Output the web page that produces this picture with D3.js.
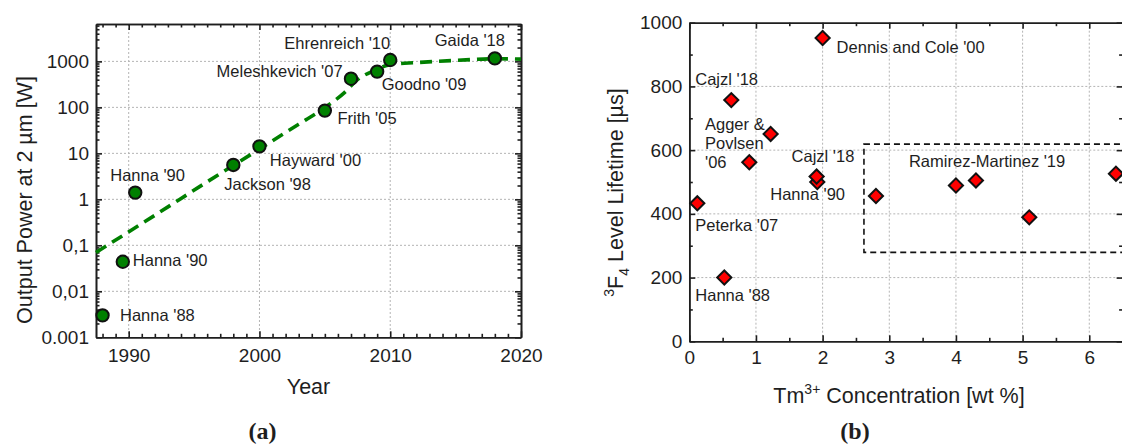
<!DOCTYPE html>
<html>
<head>
<meta charset="utf-8">
<script src="https://cdn.jsdelivr.net/npm/d3@7"></script>
<style>
  body { margin: 0; background: #fff; }
  svg { display: block; font-family: "Liberation Sans", Arial, sans-serif; }
  .grid line { stroke: #b4b4b4; stroke-width: 1; stroke-dasharray: 2,2; }
  .ax path, .ax line { stroke: #1e1e1e; stroke-width: 1.6; }
  .ax text { font-size: 19px; fill: #1e1e1e; }
  .lbl { font-size: 16.5px; fill: #1e1e1e; }
  .title { font-size: 21.5px; fill: #1e1e1e; }
  .panel { font-family: "Liberation Serif", "DejaVu Serif", serif; font-weight: bold; font-size: 24px; fill: #1e1e1e; }
</style>
</head>
<body>
<script>
// ---- panel (a): output power vs year ----
var years = [1988, 1989.55, 1990.5, 1998, 2000, 2005, 2007, 2009, 2010, 2018];
var powers = [0.003, 0.044, 1.4, 5.6, 14.2, 85, 420, 600, 1070, 1160];
var namesA = ["Hanna '88", "Hanna '90", "Hanna '90", "Jackson '98", "Hayward '00",
              "Frith '05", "Meleshkevich '07", "Goodno '09", "Ehrenreich '10", "Gaida '18"];
// trend curve
var trendYears = [1987.5, 1992, 1996, 2000, 2003, 2005, 2006.5, 2007.5, 2008.7, 2010, 2012, 2015, 2018, 2020];
var trendPower = [0.07, 0.45, 2.4, 12.4, 43, 99, 210, 400, 620, 850, 940, 1050, 1140, 1120];
var yearTicks = [1990, 2000, 2010, 2020];
var powerTicks = [0.001, 0.01, 0.1, 1, 10, 100, 1000];
var powerTickLabels = ["0.001", "0,01", "0,1", "1", "10", "100", "1000"];

// ---- panel (b): 3F4 lifetime vs Tm concentration ----
var conc = [2.0, 0.63, 1.22, 0.9, 1.92, 1.91, 0.12, 0.525, 2.8, 4.0, 4.3, 5.1, 6.4];
var lifetime = [952, 757, 651, 562, 500, 517, 433, 200, 456, 489, 505, 389, 526];
var namesB = ["Dennis and Cole '00", "Cajzl '18", "Agger &|Povlsen|'06", "", "Hanna '90", "Cajzl '18",
              "Peterka '07", "Hanna '88", "", "", "", "", ""];
var boxConc = [2.62, 6.7];
var boxLife = [279, 619];
var boxName = "Ramirez-Martinez '19";
var concTicks = [0, 1, 2, 3, 4, 5, 6];
var lifeTicks = [0, 200, 400, 600, 800, 1000];

// label offsets (px from the marker), kept apart from the values
var offA = [[17.5, 5.6, "start"], [10, 4.3, "start"], [-25, -11.6, "start"], [-9, 25, "start"],
            [10.4, 20, "start"], [12.7, 13.5, "start"], [-8.4, -2, "end"], [4.5, 18.5, "start"],
            [0, -11, "end"], [-25, -12, "middle"]];
var offB = [[14, 15], [-36, -15], [-65.6, -3.8], [0, 0], [-47, 18], [-25, -14.5],
            [-2, 28], [-29, 23.5], [0, 0], [0, 0], [0, 0], [0, 0], [0, 0]];

var svg = d3.select("body").append("svg").attr("width", 1122).attr("height", 448);

// ================= panel a =================
var xa = d3.scaleLinear().domain([1987.5, 2020]).range([96, 521]);
var ya = d3.scaleLog().domain([0.001, 6500]).range([337.3, 24]);
var ga = svg.append("g");

ga.append("g").attr("class", "grid").selectAll("line")
    .data(yearTicks.slice(0, 3)).enter().append("line")
    .attr("x1", d => xa(d)).attr("x2", d => xa(d)).attr("y1", 24).attr("y2", 337.3);
ga.append("g").attr("class", "grid").selectAll("line")
    .data(powerTicks.slice(1)).enter().append("line")
    .attr("y1", d => ya(d)).attr("y2", d => ya(d)).attr("x1", 96).attr("x2", 521);

var minorYears = d3.range(1988, 2020).filter(d => d % 10 !== 0);
var minorPow = [];
powerTicks.concat([1e4]).forEach(function (p) {
    for (var k = 2; k <= 9; k++) { if (p * k < 6500) minorPow.push(p * k); }
});

function frame(g, x, y, majX, minX, majY, minY, fmtX, fmtY, padX) {
    var bottom = y.range()[0], top = y.range()[1], left = x.range()[0], right = x.range()[1];
    g.append("g").attr("class", "ax").attr("transform", "translate(0," + bottom + ")")
        .call(d3.axisBottom(x).tickValues(majX).tickSize(-6).tickSizeOuter(0).tickPadding(padX).tickFormat(fmtX));
    g.append("g").attr("class", "ax").attr("transform", "translate(0," + bottom + ")")
        .call(d3.axisBottom(x).tickValues(minX).tickSize(-3.5).tickSizeOuter(0).tickFormat(""));
    g.append("g").attr("class", "ax").attr("transform", "translate(0," + top + ")")
        .call(d3.axisTop(x).tickValues(majX).tickSize(-6).tickSizeOuter(0).tickFormat(""));
    g.append("g").attr("class", "ax").attr("transform", "translate(0," + top + ")")
        .call(d3.axisTop(x).tickValues(minX).tickSize(-3.5).tickSizeOuter(0).tickFormat(""));
    g.append("g").attr("class", "ax").attr("transform", "translate(" + left + ",0)")
        .call(d3.axisLeft(y).tickValues(majY).tickSize(-6).tickSizeOuter(0).tickPadding(7).tickFormat(fmtY));
    g.append("g").attr("class", "ax").attr("transform", "translate(" + left + ",0)")
        .call(d3.axisLeft(y).tickValues(minY).tickSize(-3.5).tickSizeOuter(0).tickFormat(""));
    g.append("g").attr("class", "ax").attr("transform", "translate(" + right + ",0)")
        .call(d3.axisRight(y).tickValues(majY).tickSize(-6).tickSizeOuter(0).tickFormat(""));
    g.append("g").attr("class", "ax").attr("transform", "translate(" + right + ",0)")
        .call(d3.axisRight(y).tickValues(minY).tickSize(-3.5).tickSizeOuter(0).tickFormat(""));
    g.selectAll(".ax text").attr("fill", "#1e1e1e");
}

frame(ga, xa, ya, yearTicks, minorYears, powerTicks, minorPow,
      d => d, d => powerTickLabels[powerTicks.indexOf(d)], 11);

var trend = d3.line().x(d => xa(d[0])).y(d => ya(d[1])).curve(d3.curveMonotoneX);
ga.append("path")
    .datum(trendYears.map((t, i) => [t, trendPower[i]]))
    .attr("d", trend).attr("fill", "none")
    .attr("stroke", "#008000").attr("stroke-width", 3.6).attr("stroke-dasharray", "12,7");

ga.selectAll("circle.pt").data(years).enter().append("circle")
    .attr("class", "pt")
    .attr("cx", d => xa(d)).attr("cy", (d, i) => ya(powers[i])).attr("r", 6.2)
    .attr("fill", "#008000").attr("stroke", "#111").attr("stroke-width", 2);

ga.selectAll("text.lbl").data(namesA).enter().append("text")
    .attr("class", "lbl")
    .attr("x", (d, i) => xa(years[i]) + offA[i][0])
    .attr("y", (d, i) => ya(powers[i]) + offA[i][1])
    .attr("text-anchor", (d, i) => offA[i][2])
    .text(d => d);

ga.append("text").attr("class", "title").attr("x", 308.5).attr("y", 394)
    .attr("text-anchor", "middle").text("Year");
ga.append("text").attr("class", "title").attr("text-anchor", "middle")
    .attr("transform", "translate(32,200) rotate(-90)")
    .text("Output Power at 2 \u00b5m [W]");
ga.append("text").attr("class", "panel").attr("x", 262.5).attr("y", 439)
    .attr("text-anchor", "middle").text("(a)");

// ================= panel b =================
var xb = d3.scaleLinear().domain([0, 6.5]).range([689.3, 1122.6]);
var yb = d3.scaleLinear().domain([0, 1000]).range([341.3, 22.7]);
var gb = svg.append("g");

gb.append("g").attr("class", "grid").selectAll("line")
    .data(concTicks.slice(1)).enter().append("line")
    .attr("x1", d => xb(d)).attr("x2", d => xb(d)).attr("y1", 22.7).attr("y2", 341.3);
gb.append("g").attr("class", "grid").selectAll("line")
    .data(lifeTicks.slice(1, 5)).enter().append("line")
    .attr("y1", d => yb(d)).attr("y2", d => yb(d)).attr("x1", 689.3).attr("x2", 1122.6);

frame(gb, xb, yb, concTicks, [0.5, 1.5, 2.5, 3.5, 4.5, 5.5], lifeTicks, [100, 300, 500, 700, 900],
      d => d, d => d, 9.2);

gb.append("rect")
    .attr("x", xb(boxConc[0])).attr("y", yb(boxLife[1]))
    .attr("width", xb(boxConc[1]) - xb(boxConc[0])).attr("height", yb(boxLife[0]) - yb(boxLife[1]))
    .attr("fill", "none").attr("stroke", "#111").attr("stroke-width", 1.6).attr("stroke-dasharray", "6,4");
gb.append("text").attr("class", "lbl")
    .attr("x", xb(boxConc[0]) + 45).attr("y", yb(boxLife[1]) + 22.5)
    .text(boxName);

var diamond = d3.symbol().type(d3.symbolSquare).size(100);
gb.selectAll("path.pt").data(conc).enter().append("path")
    .attr("class", "pt").attr("d", diamond)
    .attr("transform", (d, i) => "translate(" + xb(d) + "," + yb(lifetime[i]) + ") rotate(45)")
    .attr("fill", "#ff0000").attr("stroke", "#111").attr("stroke-width", 2);

namesB.forEach(function (name, i) {
    if (!name) return;
    var t = gb.append("text").attr("class", "lbl")
        .attr("x", xb(conc[i]) + offB[i][0]).attr("y", yb(lifetime[i]) + offB[i][1]);
    name.split("|").forEach(function (line, k) {
        t.append("tspan").attr("x", xb(conc[i]) + offB[i][0]).attr("dy", k ? 19 : 0).text(line);
    });
});

var xt = gb.append("text").attr("class", "title").attr("x", 899).attr("y", 403).attr("text-anchor", "middle");
xt.append("tspan").text("Tm");
xt.append("tspan").attr("font-size", "14px").attr("dy", -9).text("3+");
xt.append("tspan").attr("dy", 9).text(" Concentration [wt %]");

var yt = gb.append("text").attr("class", "title").attr("text-anchor", "middle")
    .attr("transform", "translate(623,192.5) rotate(-90)");
yt.append("tspan").attr("font-size", "14px").attr("dy", -9).text("3");
yt.append("tspan").attr("dy", 9).text("F");
yt.append("tspan").attr("font-size", "14px").attr("dy", 6).text("4");
yt.append("tspan").attr("dy", -6).text(" Level Lifetime [\u00b5s]");

gb.append("text").attr("class", "panel").attr("x", 855).attr("y", 439)
    .attr("text-anchor", "middle").text("(b)");
</script>
</body>
</html>
